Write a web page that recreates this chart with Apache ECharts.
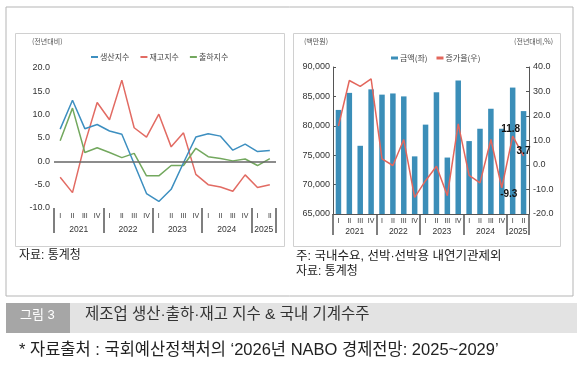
<!DOCTYPE html>
<html>
<head>
<meta charset="utf-8">
<script src="https://cdn.jsdelivr.net/npm/echarts@6/dist/echarts.min.js"></script>
<style>
  html, body { margin: 0; padding: 0; background: #fff; }
  #main { width: 583px; height: 376px; }
</style>
</head>
<body>
<div id="main"></div>
<script>
// 분기, 연도
var quarters = ['I', 'II', 'III', 'IV', 'I', 'II', 'III', 'IV', 'I', 'II', 'III', 'IV', 'I', 'II', 'III', 'IV', 'I', 'II'];
var years = ['2021', '2022', '2023', '2024', '2025'];
var yearQuarters = [4, 4, 4, 4, 2];

// 왼쪽: 생산·재고·출하 지수 (전년대비)
var prodIndex = [6.9, 13.1, 7.0, 7.9, 6.5, 5.8, -0.5, -6.9, -8.6, -6.0, -0.3, 5.2, 5.9, 5.4, 2.4, 3.7, 2.1, 2.3];
var invIndex = [-3.4, -6.7, 3.8, 12.6, 8.9, 17.4, 7.2, 5.2, 10.1, 3.1, 6.1, -2.8, -5.0, -5.5, -6.4, -2.9, -5.6, -5.0];
var shipIndex = [4.4, 11.4, 1.9, 2.9, 1.9, 0.8, 1.7, -3.1, -3.1, -0.9, -0.9, 2.8, 1.0, 0.6, 0.1, 0.5, -0.9, 0.6];

// 오른쪽: 국내 기계수주 금액(백만원), 증가율(%)
var orderAmount = [82700, 85600, 76600, 86200, 85300, 85500, 85000, 74800, 80200, 85700, 74600, 87700, 77400, 79500, 82900, 79500, 86500, 82500];
var orderRate = [15.9, 34.5, 32.1, 35.2, 2.5, -0.2, 10.4, -13.2, -6.4, -0.5, -12.5, 16.8, -4.2, -7.3, 10.4, -9.3, 11.8, 3.7];

var numFont = 'Liberation Sans';
var korFont = 'Noto Sans CJK KR';
var mixFont = 'Liberation Sans, Noto Sans CJK KR';

// 연도 구분선 위치와 연도 라벨 (경계점 19개)
var boundaries = [0];
var yearLabels = [];
for (var i = 0; i <= quarters.length; i++) yearLabels.push('');
var acc = 0;
yearQuarters.forEach(function (n, k) {
  yearLabels[acc + n / 2] = years[k];
  acc += n;
  boundaries.push(acc);
});

function quarterAxis(gridIndex, showLine, margin) {
  return {
    type: 'category', gridIndex: gridIndex, position: 'bottom', data: quarters,
    axisLine: { show: showLine, onZero: false, lineStyle: { color: '#555', width: 1 } },
    axisTick: { show: false },
    axisLabel: { interval: 0, fontSize: 7, color: '#333', fontFamily: numFont, margin: margin }
  };
}
function yearAxis(gridIndex, tickLen, margin) {
  return {
    type: 'category', gridIndex: gridIndex, position: 'bottom', data: yearLabels,
    boundaryGap: false,
    axisLine: { show: false, onZero: false },
    axisTick: {
      show: true, length: tickLen,
      interval: function (idx) { return boundaries.indexOf(idx) >= 0; },
      lineStyle: { color: '#555', width: 1.5 }
    },
    axisLabel: { interval: 0, fontSize: 8.5, color: '#333', fontFamily: numFont, margin: margin }
  };
}

var chart = echarts.init(document.getElementById('main'), null, { renderer: 'canvas' });

// 마지막 세 값에만 라벨
var rateData = orderRate.map(function (v, i) {
  if (i === 15) return { value: v, label: { show: true, position: 'bottom', distance: 1, offset: [7, 0] } };
  if (i === 16) return { value: v, label: { show: true, position: 'top', distance: 2, offset: [-2, 0] } };
  if (i === 17) return { value: v, label: { show: true, position: 'top', distance: 0, offset: [0, 0] } };
  return v;
});

var option = {
  animation: false,
  backgroundColor: '#fff',
  textStyle: { fontFamily: korFont },
  grid: [
    { left: 54, top: 68, width: 222, height: 140 },
    { left: 333, top: 67, width: 196, height: 147 }
  ],
  legend: [
    {
      data: ['생산지수', '재고지수', '출하지수'],
      left: 86, top: 48, icon: 'rect', itemWidth: 7, itemHeight: 2, itemGap: 11,
      textStyle: { fontSize: 8, color: '#444', fontFamily: korFont, padding: [0, 0, 0, -3] }
    },
    {
      data: [{ name: '금액(좌)', icon: 'rect' }, { name: '증가율(우)', icon: 'rect' }],
      left: 386, top: 49, itemWidth: 7, itemHeight: 3, itemGap: 9,
      textStyle: { fontSize: 8, color: '#444', fontFamily: korFont, padding: [0, 0, 0, -3] }
    }
  ],
  xAxis: [
    quarterAxis(0, false, 5),
    yearAxis(0, 25, 17),
    quarterAxis(1, true, 4),
    yearAxis(1, 21, 13)
  ],
  yAxis: [
    {
      type: 'value', gridIndex: 0, min: -10, max: 20, interval: 5,
      axisLine: { show: false }, axisTick: { show: false }, splitLine: { show: false },
      axisLabel: { fontSize: 9, color: '#333', fontFamily: numFont, margin: 4,
        formatter: function (v) { return v.toFixed(1); } }
    },
    {
      type: 'value', gridIndex: 1, min: 65000, max: 90000, interval: 5000,
      axisLine: { show: true, onZero: false, lineStyle: { color: '#555' } },
      axisTick: { show: true, inside: true, length: 3, lineStyle: { color: '#555' } },
      splitLine: { show: false },
      axisLabel: { fontSize: 9, color: '#333', fontFamily: numFont, margin: 3,
        formatter: function (v) { return v.toLocaleString('en-US'); } }
    },
    {
      type: 'value', gridIndex: 1, position: 'right', min: -20, max: 40, interval: 10,
      axisLine: { show: true, onZero: false, lineStyle: { color: '#555' } },
      axisTick: { show: true, inside: true, length: 3, lineStyle: { color: '#555' } },
      splitLine: { show: false },
      axisLabel: { fontSize: 9, color: '#333', fontFamily: numFont, margin: 4,
        formatter: function (v) { return v.toFixed(1); } }
    }
  ],
  series: [
    {
      name: '생산지수', type: 'line', xAxisIndex: 0, yAxisIndex: 0, data: prodIndex,
      showSymbol: false, color: '#3d8fc0', lineStyle: { width: 1.5 }, z: 4,
      markLine: {
        silent: true, symbol: 'none', label: { show: false },
        lineStyle: { color: '#666', width: 1.5, type: 'solid' },
        data: [{ yAxis: 0 }]
      }
    },
    {
      name: '재고지수', type: 'line', xAxisIndex: 0, yAxisIndex: 0, data: invIndex,
      showSymbol: false, color: '#e26b63', lineStyle: { width: 1.5 }, z: 3
    },
    {
      name: '출하지수', type: 'line', xAxisIndex: 0, yAxisIndex: 0, data: shipIndex,
      showSymbol: false, color: '#73a85e', lineStyle: { width: 1.5 }, z: 3
    },
    {
      name: '금액(좌)', type: 'bar', xAxisIndex: 2, yAxisIndex: 1, data: orderAmount,
      barWidth: 5.5, color: '#3b8eb8'
    },
    {
      name: '증가율(우)', type: 'line', xAxisIndex: 2, yAxisIndex: 2, data: rateData,
      showSymbol: true, symbol: 'circle', symbolSize: 0.01,
      color: '#e3665c', lineStyle: { width: 1.5 }, z: 4,
      label: {
        show: false, color: '#111', fontSize: 10, fontWeight: 'bold', fontFamily: numFont,
        formatter: function (p) { return p.value.toFixed(1); }
      }
    }
  ],
  graphic: [
    // 바깥 틀
    { type: 'rect', shape: { x: 6, y: 7, width: 567, height: 289 }, style: { fill: null, stroke: '#b5b5b5', lineWidth: 1 }, z: -10 },
    { type: 'rect', shape: { x: 15.5, y: 33.5, width: 269, height: 213 }, style: { fill: null, stroke: '#d0d0d0', lineWidth: 1 }, z: -10 },
    { type: 'rect', shape: { x: 293.5, y: 33.5, width: 267, height: 213 }, style: { fill: null, stroke: '#d0d0d0', lineWidth: 1 }, z: -10 },
    // 단위
    { type: 'text', left: 32, top: 38, style: { text: '(전년대비)', fontSize: 7, fill: '#555', fontFamily: korFont } },
    { type: 'text', left: 304, top: 38, style: { text: '(백만원)', fontSize: 7, fill: '#555', fontFamily: korFont } },
    { type: 'text', right: 30, top: 38, style: { text: '(전년대비,%)', fontSize: 7, fill: '#555', fontFamily: korFont } },
    // 출처, 주
    { type: 'text', left: 19, top: 250, style: { text: '자료: 통계청', fontSize: 12, fill: '#222', fontFamily: mixFont } },
    { type: 'text', left: 296, top: 250, style: { text: '주: 국내수요, 선박·선박용 내연기관제외', fontSize: 12.5, fill: '#222', fontFamily: mixFont } },
    { type: 'text', left: 296, top: 266, style: { text: '자료: 통계청', fontSize: 12, fill: '#222', fontFamily: mixFont } },
    // 그림 제목 띠
    { type: 'rect', shape: { x: 6, y: 303, width: 571, height: 30 }, style: { fill: '#e3e3e3' }, z: -5 },
    { type: 'rect', shape: { x: 6, y: 303, width: 64, height: 30 }, style: { fill: '#a6a6a6' }, z: -4 },
    { type: 'text', left: 20, top: 309, style: { text: '그림 3', fontSize: 13, fill: '#fff', fontFamily: mixFont } },
    { type: 'text', left: 85, top: 307, style: { text: '제조업 생산·출하·재고 지수 & 국내 기계수주', fontSize: 15.5, fill: '#333', fontFamily: mixFont } },
    // 자료출처
    { type: 'text', left: 19, top: 342, style: { text: '* 자료출처 : 국회예산정책처의 ‘2026년 NABO 경제전망: 2025~2029’', fontSize: 16.5, fill: '#222', fontFamily: mixFont } }
  ]
};

chart.setOption(option);
</script>
</body>
</html>
